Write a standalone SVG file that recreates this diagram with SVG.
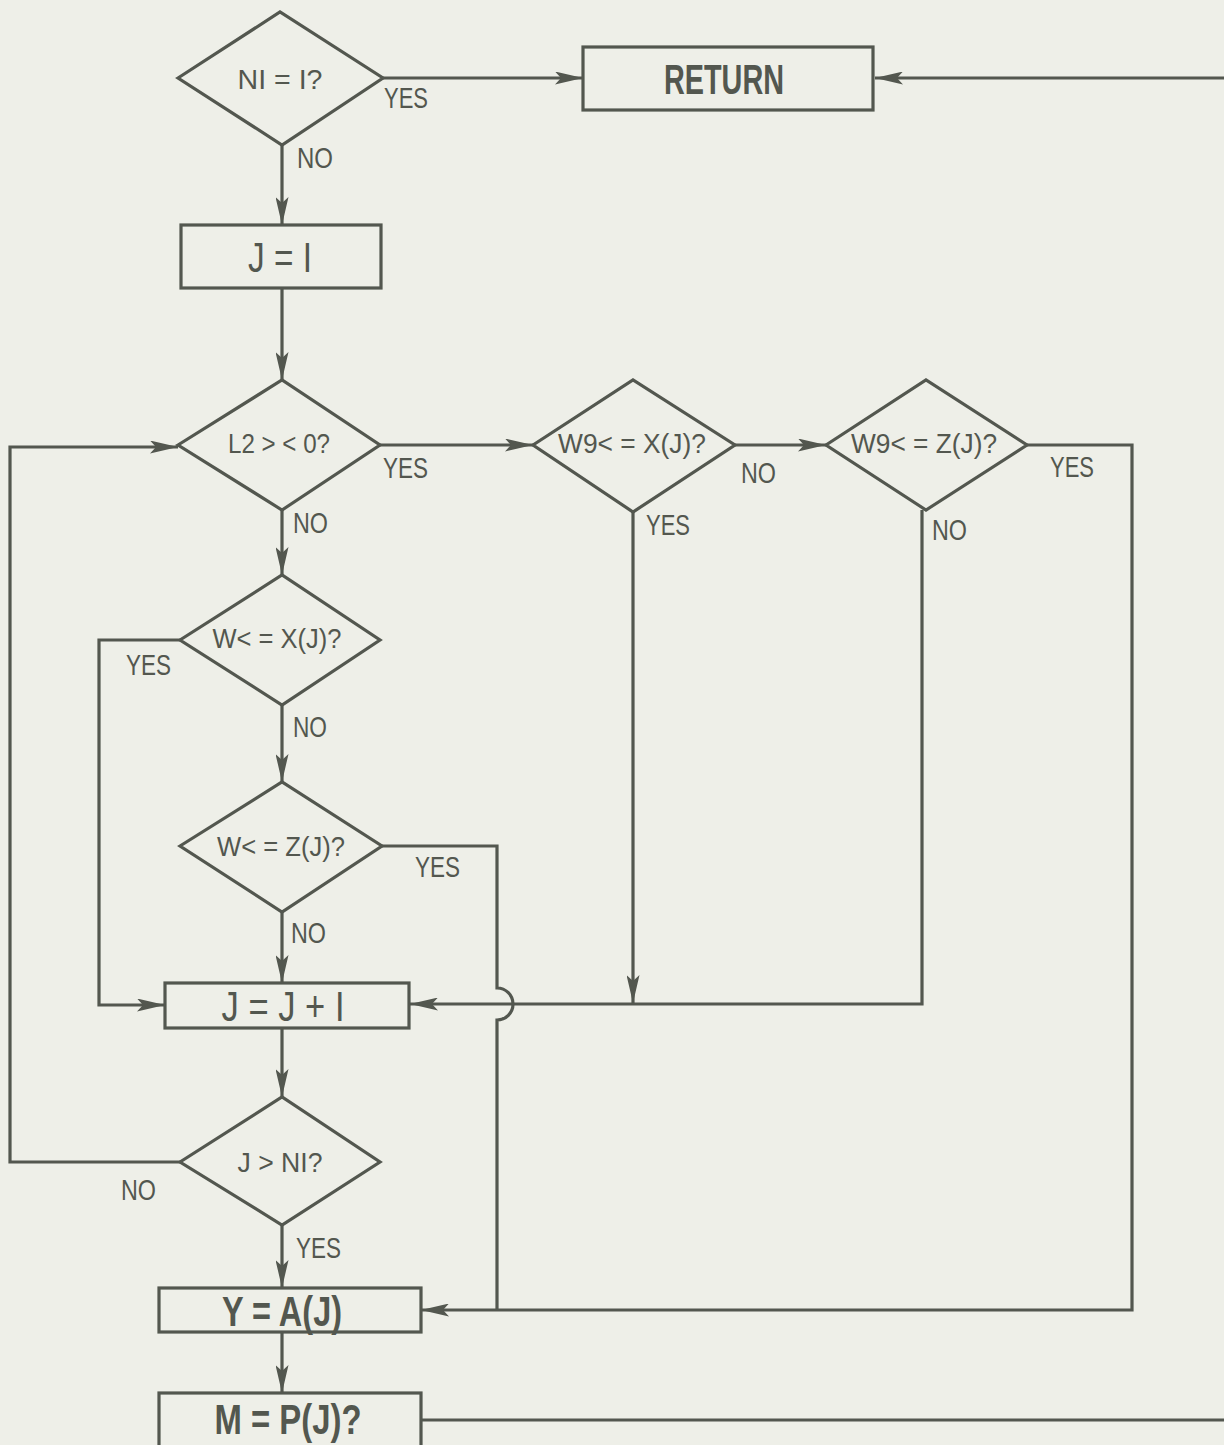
<svg xmlns="http://www.w3.org/2000/svg" width="1224" height="1445" viewBox="0 0 1224 1445">
<style>
.bg{fill:#eeefe8}
.shape{fill:none;stroke:#53574f;stroke-width:3.2}
.ln{fill:none;stroke:#53574f;stroke-width:3.2}
.t{font-family:"Liberation Sans",Arial,sans-serif;fill:#53574f;text-anchor:middle}
.d{font-size:28px}
.lb{font-size:29px;text-anchor:start}
.b{font-size:43px}
.bb{font-size:43px;font-weight:bold}
</style>
<defs>
<marker id="ah" viewBox="0 0 28 13" refX="28" refY="6.5" markerWidth="28" markerHeight="13" orient="auto" markerUnits="userSpaceOnUse">
<path d="M0,0 L28,6.5 L0,13 L6,6.5 z" fill="#53574f"/>
</marker>
</defs>
<rect class="bg" x="0" y="0" width="1224" height="1445"/>

<g id="connectors">
<line class="ln" x1="383" y1="78" x2="583" y2="78" marker-end="url(#ah)"/>
<line class="ln" x1="1224" y1="78" x2="875" y2="78" marker-end="url(#ah)"/>
<line class="ln" x1="282" y1="145" x2="282" y2="225" marker-end="url(#ah)"/>
<line class="ln" x1="282" y1="288" x2="282" y2="380" marker-end="url(#ah)"/>
<line class="ln" x1="380" y1="445" x2="533" y2="445" marker-end="url(#ah)"/>
<line class="ln" x1="735" y1="445" x2="826" y2="445" marker-end="url(#ah)"/>
<polyline class="ln" points="180,1162 10,1162 10,447 178,447" marker-end="url(#ah)"/>
<line class="ln" x1="282" y1="510" x2="282" y2="575" marker-end="url(#ah)"/>
<polyline class="ln" points="180,640 99,640 99,1005 165,1005" marker-end="url(#ah)"/>
<line class="ln" x1="282" y1="705" x2="282" y2="782" marker-end="url(#ah)"/>
<line class="ln" x1="282" y1="912" x2="282" y2="983" marker-end="url(#ah)"/>
<path class="ln" d="M382,846 L497,846 L497,988 A16,16 0 0 1 497,1020 L497,1310"/>
<polyline class="ln" points="922,510 922,1004 410,1004" marker-end="url(#ah)"/>
<line class="ln" x1="633" y1="512" x2="633" y2="1003" marker-end="url(#ah)"/>
<polyline class="ln" points="1027,445 1132,445 1132,1310 421,1310" marker-end="url(#ah)"/>
<line class="ln" x1="282" y1="1028" x2="282" y2="1097" marker-end="url(#ah)"/>
<line class="ln" x1="282" y1="1225" x2="282" y2="1288" marker-end="url(#ah)"/>
<line class="ln" x1="282" y1="1332" x2="282" y2="1393" marker-end="url(#ah)"/>
<line class="ln" x1="421" y1="1420" x2="1224" y2="1420"/>
<text class="t lb" x="384" y="108" textLength="44" lengthAdjust="spacingAndGlyphs">YES</text>
<text class="t lb" x="297" y="168" textLength="36" lengthAdjust="spacingAndGlyphs">NO</text>
<text class="t lb" x="383" y="478" textLength="45" lengthAdjust="spacingAndGlyphs">YES</text>
<text class="t lb" x="293" y="533" textLength="35" lengthAdjust="spacingAndGlyphs">NO</text>
<text class="t lb" x="741" y="483" textLength="35" lengthAdjust="spacingAndGlyphs">NO</text>
<text class="t lb" x="646" y="535" textLength="44" lengthAdjust="spacingAndGlyphs">YES</text>
<text class="t lb" x="1050" y="477" textLength="44" lengthAdjust="spacingAndGlyphs">YES</text>
<text class="t lb" x="932" y="540" textLength="35" lengthAdjust="spacingAndGlyphs">NO</text>
<text class="t lb" x="126" y="675" textLength="45" lengthAdjust="spacingAndGlyphs">YES</text>
<text class="t lb" x="293" y="737" textLength="34" lengthAdjust="spacingAndGlyphs">NO</text>
<text class="t lb" x="415" y="877" textLength="45" lengthAdjust="spacingAndGlyphs">YES</text>
<text class="t lb" x="291" y="943" textLength="35" lengthAdjust="spacingAndGlyphs">NO</text>
<text class="t lb" x="121" y="1200" textLength="35" lengthAdjust="spacingAndGlyphs">NO</text>
<text class="t lb" x="296" y="1258" textLength="45" lengthAdjust="spacingAndGlyphs">YES</text>
</g>

<g id="n-ni1">
<polygon class="shape" points="178,78 280,12 383,78 282,145"/>
<text class="t d" x="280" y="89" textLength="85" lengthAdjust="spacingAndGlyphs">NI = I?</text>
</g>
<g id="n-return">
<rect class="shape" x="583" y="47" width="290" height="63"/>
<text class="t bb" x="724" y="94" textLength="120" lengthAdjust="spacingAndGlyphs">RETURN</text>
</g>
<g id="n-j1">
<rect class="shape" x="181" y="225" width="200" height="63"/>
<text class="t b" x="280" y="272" textLength="64" lengthAdjust="spacingAndGlyphs">J = I</text>
</g>
<g id="n-l2">
<polygon class="shape" points="178,445 282,380 380,445 282,510"/>
<text class="t d" x="279" y="453" textLength="102" lengthAdjust="spacingAndGlyphs">L2 &gt; &lt; 0?</text>
</g>
<g id="n-w9x">
<polygon class="shape" points="533,445 633,380 735,445 633,512"/>
<text class="t d" x="632" y="453" textLength="148" lengthAdjust="spacingAndGlyphs">W9&lt; = X(J)?</text>
</g>
<g id="n-w9z">
<polygon class="shape" points="826,445 926,380 1027,445 926,510"/>
<text class="t d" x="924" y="453" textLength="146" lengthAdjust="spacingAndGlyphs">W9&lt; = Z(J)?</text>
</g>
<g id="n-wx">
<polygon class="shape" points="180,640 282,575 380,640 282,705"/>
<text class="t d" x="277" y="648" textLength="129" lengthAdjust="spacingAndGlyphs">W&lt; = X(J)?</text>
</g>
<g id="n-wz">
<polygon class="shape" points="180,846 282,782 382,846 282,912"/>
<text class="t d" x="281" y="856" textLength="128" lengthAdjust="spacingAndGlyphs">W&lt; = Z(J)?</text>
</g>
<g id="n-jinc">
<rect class="shape" x="165" y="983" width="244" height="45"/>
<text class="t b" x="283" y="1021" textLength="123" lengthAdjust="spacingAndGlyphs">J = J + I</text>
</g>
<g id="n-jni">
<polygon class="shape" points="180,1162 282,1097 380,1162 282,1225"/>
<text class="t d" x="280" y="1172" textLength="85" lengthAdjust="spacingAndGlyphs">J &gt; NI?</text>
</g>
<g id="n-ya">
<rect class="shape" x="159" y="1288" width="262" height="44"/>
<text class="t bb" x="282" y="1326" textLength="120" lengthAdjust="spacingAndGlyphs">Y = A(J)</text>
</g>
<g id="n-mp">
<rect class="shape" x="159" y="1393" width="262" height="60"/>
<text class="t bb" x="288" y="1434" textLength="147" lengthAdjust="spacingAndGlyphs">M = P(J)?</text>
</g>
</svg>
